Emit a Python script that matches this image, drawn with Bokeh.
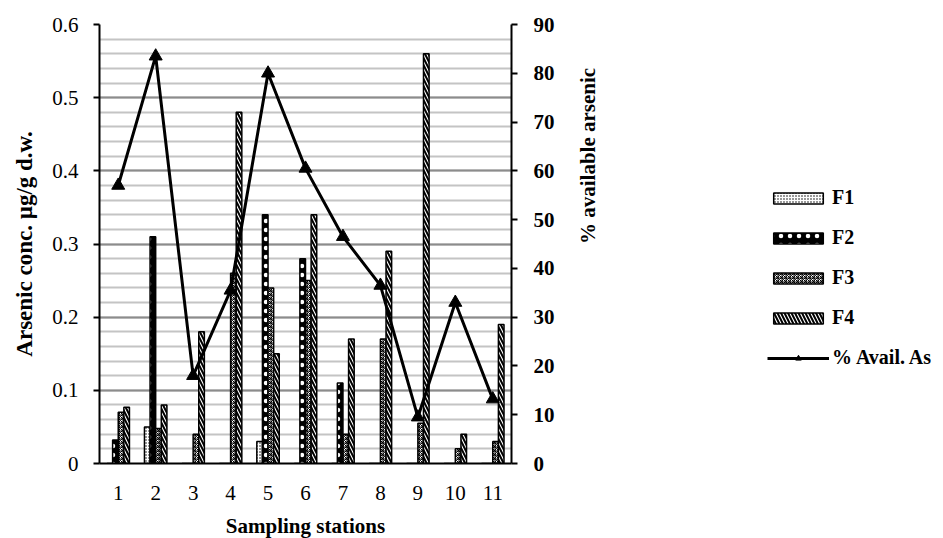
import math
from bokeh.plotting import figure
from bokeh.layouts import row
from bokeh.models import (Range1d, LinearAxis, FixedTicker, Legend, LegendItem,
                          ColumnDataSource)
from bokeh.transform import dodge
from bokeh.embed import file_html
from bokeh.resources import INLINE

# ---- data ----
stations = [1, 2, 3, 4, 5, 6, 7, 8, 9, 10, 11]
station_labels = ["1", "2", "3", "4", "5", "6", "7", "8", "9", "10", "11"]
f1 = [0.0, 0.05, 0.0, 0.0, 0.03, 0.0, 0.0, 0.0, 0.0, 0.0, 0.0]
f2 = [0.032, 0.31, 0.0, 0.0, 0.34, 0.28, 0.11, 0.0, 0.0, 0.0, 0.0]
f3 = [0.07, 0.048, 0.04, 0.26, 0.24, 0.25, 0.04, 0.17, 0.055, 0.02, 0.03]
f4 = [0.077, 0.08, 0.18, 0.48, 0.15, 0.34, 0.17, 0.29, 0.56, 0.04, 0.19]
avail_pct = [57, 83.5, 18, 35.5, 80, 60.5, 46.5, 36.5, 9.5, 33, 13.2]
series_names = ["F1", "F2", "F3", "F4"]
line_name = "% Avail. As"

left_ticks = [0, 0.1, 0.2, 0.3, 0.4, 0.5, 0.6]
left_tick_labels = ["0", "0.1", "0.2", "0.3", "0.4", "0.5", "0.6"]
right_ticks = [0, 10, 20, 30, 40, 50, 60, 70, 80, 90]

FONT = "Liberation Serif"
TICK_FS = "21px"
TITLE_FS = "21px"

p = figure(frame_width=412, frame_height=439,
           min_border_left=99, min_border_right=100,
           min_border_top=24, min_border_bottom=73,
           x_range=Range1d(0.5, 11.5), y_range=Range1d(0, 0.6),
           output_backend="svg", toolbar_location=None)
p.extra_y_ranges = {"pct": Range1d(0, 90)}
p.outline_line_color = None
p.background_fill_color = "white"

# grid
p.xgrid.visible = False
p.ygrid.ticker = FixedTicker(ticks=left_ticks,
                             minor_ticks=[round(i * 0.02, 2) for i in range(31)])
p.ygrid.grid_line_color = "#8c8c8c"
p.ygrid.grid_line_width = 2
p.ygrid.minor_grid_line_color = "#c4c4c4"
p.ygrid.minor_grid_line_width = 2

# bar styles
styles = [
    dict(fill_color="white", hatch_pattern="dot", hatch_color="black", hatch_scale=3, hatch_weight=1),
    dict(fill_color="black", hatch_pattern="dot", hatch_color="white", hatch_scale=9, hatch_weight=1),
    dict(fill_color="white", hatch_pattern="criss_cross", hatch_color="black", hatch_scale=4, hatch_weight=1),
    dict(fill_color="white", hatch_pattern="left_diagonal_line", hatch_color="black", hatch_scale=7, hatch_weight=2),
]

src = ColumnDataSource(dict(x=stations, f1=f1, f2=f2, f3=f3, f4=f4))
bw = 0.15
offs = [-0.225, -0.075, 0.075, 0.225]
for col, off, st in zip(["f1", "f2", "f3", "f4"], offs, styles):
    p.vbar(x=dodge("x", off), top=col, width=bw, source=src,
           line_color="black", line_width=1.5, **st)

# line
p.line(stations, avail_pct, y_range_name="pct", line_color="black", line_width=3)
p.scatter(stations, avail_pct, y_range_name="pct", marker="triangle", size=13,
          fill_color="black", line_color="black")

# axes
xa = p.xaxis[0]
xa.ticker = FixedTicker(ticks=stations)
xa.major_label_overrides = {s: l for s, l in zip(stations, station_labels)}
xa.axis_line_width = 2
xa.axis_line_color = "black"
xa.major_tick_out = 0
xa.major_tick_in = 0
xa.minor_tick_out = 0
xa.minor_tick_in = 0
xa.major_label_standoff = 22
xa.major_label_text_font = FONT
xa.major_label_text_font_size = TICK_FS
xa.major_label_text_color = "black"
xa.axis_label = "Sampling stations"
xa.axis_label_text_font = FONT
xa.axis_label_text_font_size = TITLE_FS
xa.axis_label_text_font_style = "bold"
xa.axis_label_text_color = "black"
xa.axis_label_standoff = 11

ya = p.yaxis[0]
ya.ticker = FixedTicker(ticks=left_ticks)
ya.major_label_overrides = {t: l for t, l in zip(left_ticks, left_tick_labels)}
ya.axis_line_width = 2
ya.axis_line_color = "black"
ya.major_tick_out = 6
ya.major_tick_in = 0
ya.major_tick_line_width = 2
ya.minor_tick_out = 0
ya.minor_tick_in = 0
ya.major_label_standoff = 15
ya.major_label_text_font = FONT
ya.major_label_text_font_size = TICK_FS
ya.major_label_text_color = "black"
ya.axis_label = "Arsenic conc. µg/g d.w."
ya.axis_label_text_font = FONT
ya.axis_label_text_font_size = "23px"
ya.axis_label_text_font_style = "bold"
ya.axis_label_text_color = "black"
ya.axis_label_standoff = 12

ra = LinearAxis(y_range_name="pct", ticker=FixedTicker(ticks=right_ticks))
ra.axis_line_width = 2
ra.axis_line_color = "black"
ra.major_tick_out = 6
ra.major_tick_in = 0
ra.major_tick_line_width = 2
ra.minor_tick_out = 0
ra.minor_tick_in = 0
ra.major_label_standoff = 16
ra.major_label_text_font = FONT
ra.major_label_text_font_size = TICK_FS
ra.major_label_text_font_style = "bold"
ra.major_label_text_color = "black"
ra.axis_label = "% available arsenic"
ra.axis_label_text_font = FONT
ra.axis_label_text_font_size = TITLE_FS
ra.axis_label_text_font_style = "bold"
ra.axis_label_text_color = "black"
ra.axis_label_standoff = 30
ra.axis_label_orientation = math.pi / 2
p.add_layout(ra, "right")

# ---- legend panel (separate figure so the legend is not clipped) ----
p_width = 99 + 412 + 100
lg_height = 536
lg = figure(width=941 - p_width, height=lg_height, min_border=0,
            x_range=Range1d(0, 1), y_range=Range1d(0, 1),
            x_axis_type=None, y_axis_type=None,
            output_backend="svg", toolbar_location=None)
lg.grid.visible = False
lg.outline_line_color = None

items = []
for name, st in zip(series_names, styles):
    r = lg.vbar(x=[5], top=[5], width=0.1, line_color="black", line_width=1.5, **st)
    items.append(LegendItem(label=name, renderers=[r]))
l1 = lg.line([5, 6], [5, 6], line_color="black", line_width=3)
l2 = lg.scatter([5], [5], marker="triangle", size=13, fill_color="black", line_color="black")
items.append(LegendItem(label=line_name, renderers=[l1, l2]))

legend = Legend(items=items, location=(773 - p_width - 9, 90),
                orientation="vertical", border_line_color=None,
                background_fill_alpha=0, padding=0, margin=0, spacing=17,
                glyph_width=62, glyph_height=14, label_height=20, label_standoff=3,
                label_text_font=FONT, label_text_font_size="20px",
                label_text_font_style="bold", label_text_color="black")
lg.add_layout(legend, "center")

layout = row(p, lg, spacing=0)
open("out.html", "w").write(file_html(layout, INLINE))
